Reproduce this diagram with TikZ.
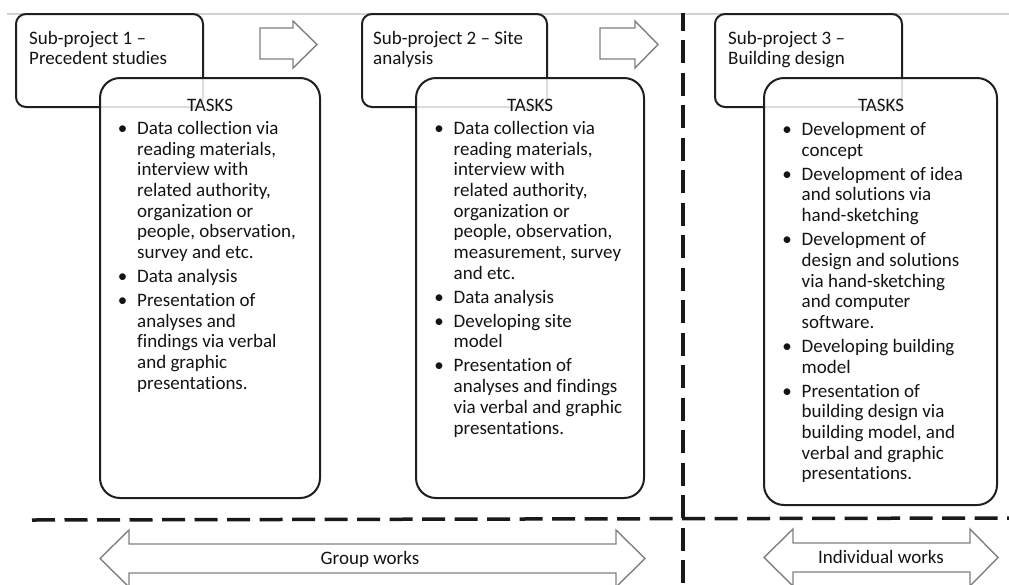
\documentclass[tikz,border=0pt]{standalone}
\usepackage{fontspec}
\setmainfont{Carlito}[Ligatures=NoCommon]
\newcommand\BulItem[1]{\makebox[0pt]{\textbullet}\hspace{14.5pt}#1}
\newcommand\ContLine[1]{\hspace*{14.5pt}#1}
\begin{document}
\begin{tikzpicture}[x=1pt,y=-1pt,
  subbox/.style={draw=black!88, line width=2pt, rounded corners=10pt, fill=white, anchor=north west, inner sep=0pt, outer sep=0pt},
  taskbox/.style={draw=black!88, line width=2pt, rounded corners=20pt, fill=white, fill opacity=0.85, anchor=north west, inner sep=0pt, outer sep=0pt},
  blockarrow/.style={draw=black!50, line width=1.4pt, fill=white, line join=miter},
  sepline/.style={line width=3.5pt, dash pattern=on 23pt off 9.5pt, black!90},
  txt/.style={inner sep=0pt, font=\fontsize{19}{20.7}\selectfont, text=black!92},
  hdr/.style={inner sep=0pt, font=\fontsize{19}{20}\selectfont, text=black!92},
]
\useasboundingbox (0,0) rectangle (1009,584);
\draw[black!18, line width=1.5pt] (7,14) -- (1009,14);

% separators
\draw[sepline, dash phase=5.5pt] (683,13) -- (683,590);
\draw[sepline] (32,520) -- (1009,518);

% sub-project boxes
\node[subbox, minimum width=187pt, minimum height=93pt] (sp1) at (16,14) {};
\node[subbox, minimum width=185pt, minimum height=93pt] (sp2) at (362,14) {};
\node[subbox, minimum width=187pt, minimum height=93pt] (sp3) at (715,14) {};

\node[hdr, anchor=base west] (sp1t) at (29,44.3) {\begin{tabular}[t]{@{}l@{}}Sub-project 1 --\\Precedent studies\end{tabular}};
\node[hdr, anchor=base west] (sp2t) at (373,44.3) {\begin{tabular}[t]{@{}l@{}}Sub-project 2 -- Site\\analysis\end{tabular}};
\node[hdr, anchor=base west] (sp3t) at (728,44.3) {\begin{tabular}[t]{@{}l@{}}Sub-project 3 --\\Building design\end{tabular}};

% top arrows
\draw[blockarrow] (260,28) -- (293,28) -- (293,21) -- (317,44.5) -- (293,68) -- (293,59) -- (260,59) -- cycle;
\draw[blockarrow] (600,28) -- (635,28) -- (635,21) -- (658,44.5) -- (635,68) -- (635,59) -- (600,59) -- cycle;

% task boxes
\node[taskbox, minimum width=220pt, minimum height=420pt] (tb1) at (100,78) {};
\node[taskbox, minimum width=228pt, minimum height=420pt] (tb2) at (416,78) {};
\node[taskbox, minimum width=233pt, minimum height=427pt] (tb3) at (764,78) {};

\node[txt, anchor=base] (tk1) at (210,111) {TASKS};
\node[txt, anchor=base] (tk2) at (530,111) {TASKS};
\node[txt, anchor=base] (tk3) at (881,111) {TASKS};

\node[txt, anchor=base west] (l1) at (122.5,134.3) {\begin{tabular}[t]{@{}l@{}}
\BulItem{Data collection via}\\
\ContLine{reading materials,}\\
\ContLine{interview with}\\
\ContLine{related authority,}\\
\ContLine{organization or}\\
\ContLine{people, observation,}\\
\ContLine{survey and etc.}\\[3.3pt]
\BulItem{Data analysis}\\[3.3pt]
\BulItem{Presentation of}\\
\ContLine{analyses and}\\
\ContLine{findings via verbal}\\
\ContLine{and graphic}\\
\ContLine{presentations.}
\end{tabular}};

\node[txt, anchor=base west] (l2) at (439,134.3) {\begin{tabular}[t]{@{}l@{}}
\BulItem{Data collection via}\\
\ContLine{reading materials,}\\
\ContLine{interview with}\\
\ContLine{related authority,}\\
\ContLine{organization or}\\
\ContLine{people, observation,}\\
\ContLine{measurement, survey}\\
\ContLine{and etc.}\\[3.3pt]
\BulItem{Data analysis}\\[3.3pt]
\BulItem{Developing site}\\
\ContLine{model}\\[3.3pt]
\BulItem{Presentation of}\\
\ContLine{analyses and findings}\\
\ContLine{via verbal and graphic}\\
\ContLine{presentations.}
\end{tabular}};

\node[txt, anchor=base west] (l3) at (787,135.5) {\begin{tabular}[t]{@{}l@{}}
\BulItem{Development of}\\
\ContLine{concept}\\[3.3pt]
\BulItem{Development of idea}\\
\ContLine{and solutions via}\\
\ContLine{hand-sketching}\\[3.3pt]
\BulItem{Development of}\\
\ContLine{design and solutions}\\
\ContLine{via hand-sketching}\\
\ContLine{and computer}\\
\ContLine{software.}\\[3.3pt]
\BulItem{Developing building}\\
\ContLine{model}\\[3.3pt]
\BulItem{Presentation of}\\
\ContLine{building design via}\\
\ContLine{building model, and}\\
\ContLine{verbal and graphic}\\
\ContLine{presentations.}
\end{tabular}};

% bottom double arrows
\draw[blockarrow] (100,558.5) -- (129,530) -- (129,544) -- (616,544) -- (616,530) -- (645,558.5) -- (616,587) -- (616,573) -- (129,573) -- (129,587) -- cycle;
\draw[blockarrow] (764,557.5) -- (793,529) -- (793,543) -- (970,543) -- (970,529) -- (998,557.5) -- (970,586) -- (970,572) -- (793,572) -- (793,586) -- cycle;
\node[txt, anchor=base] (gw) at (370,564) {Group works};
\node[txt, anchor=base] (iw) at (881,563.5) {Individual works};
\end{tikzpicture}
\end{document}
